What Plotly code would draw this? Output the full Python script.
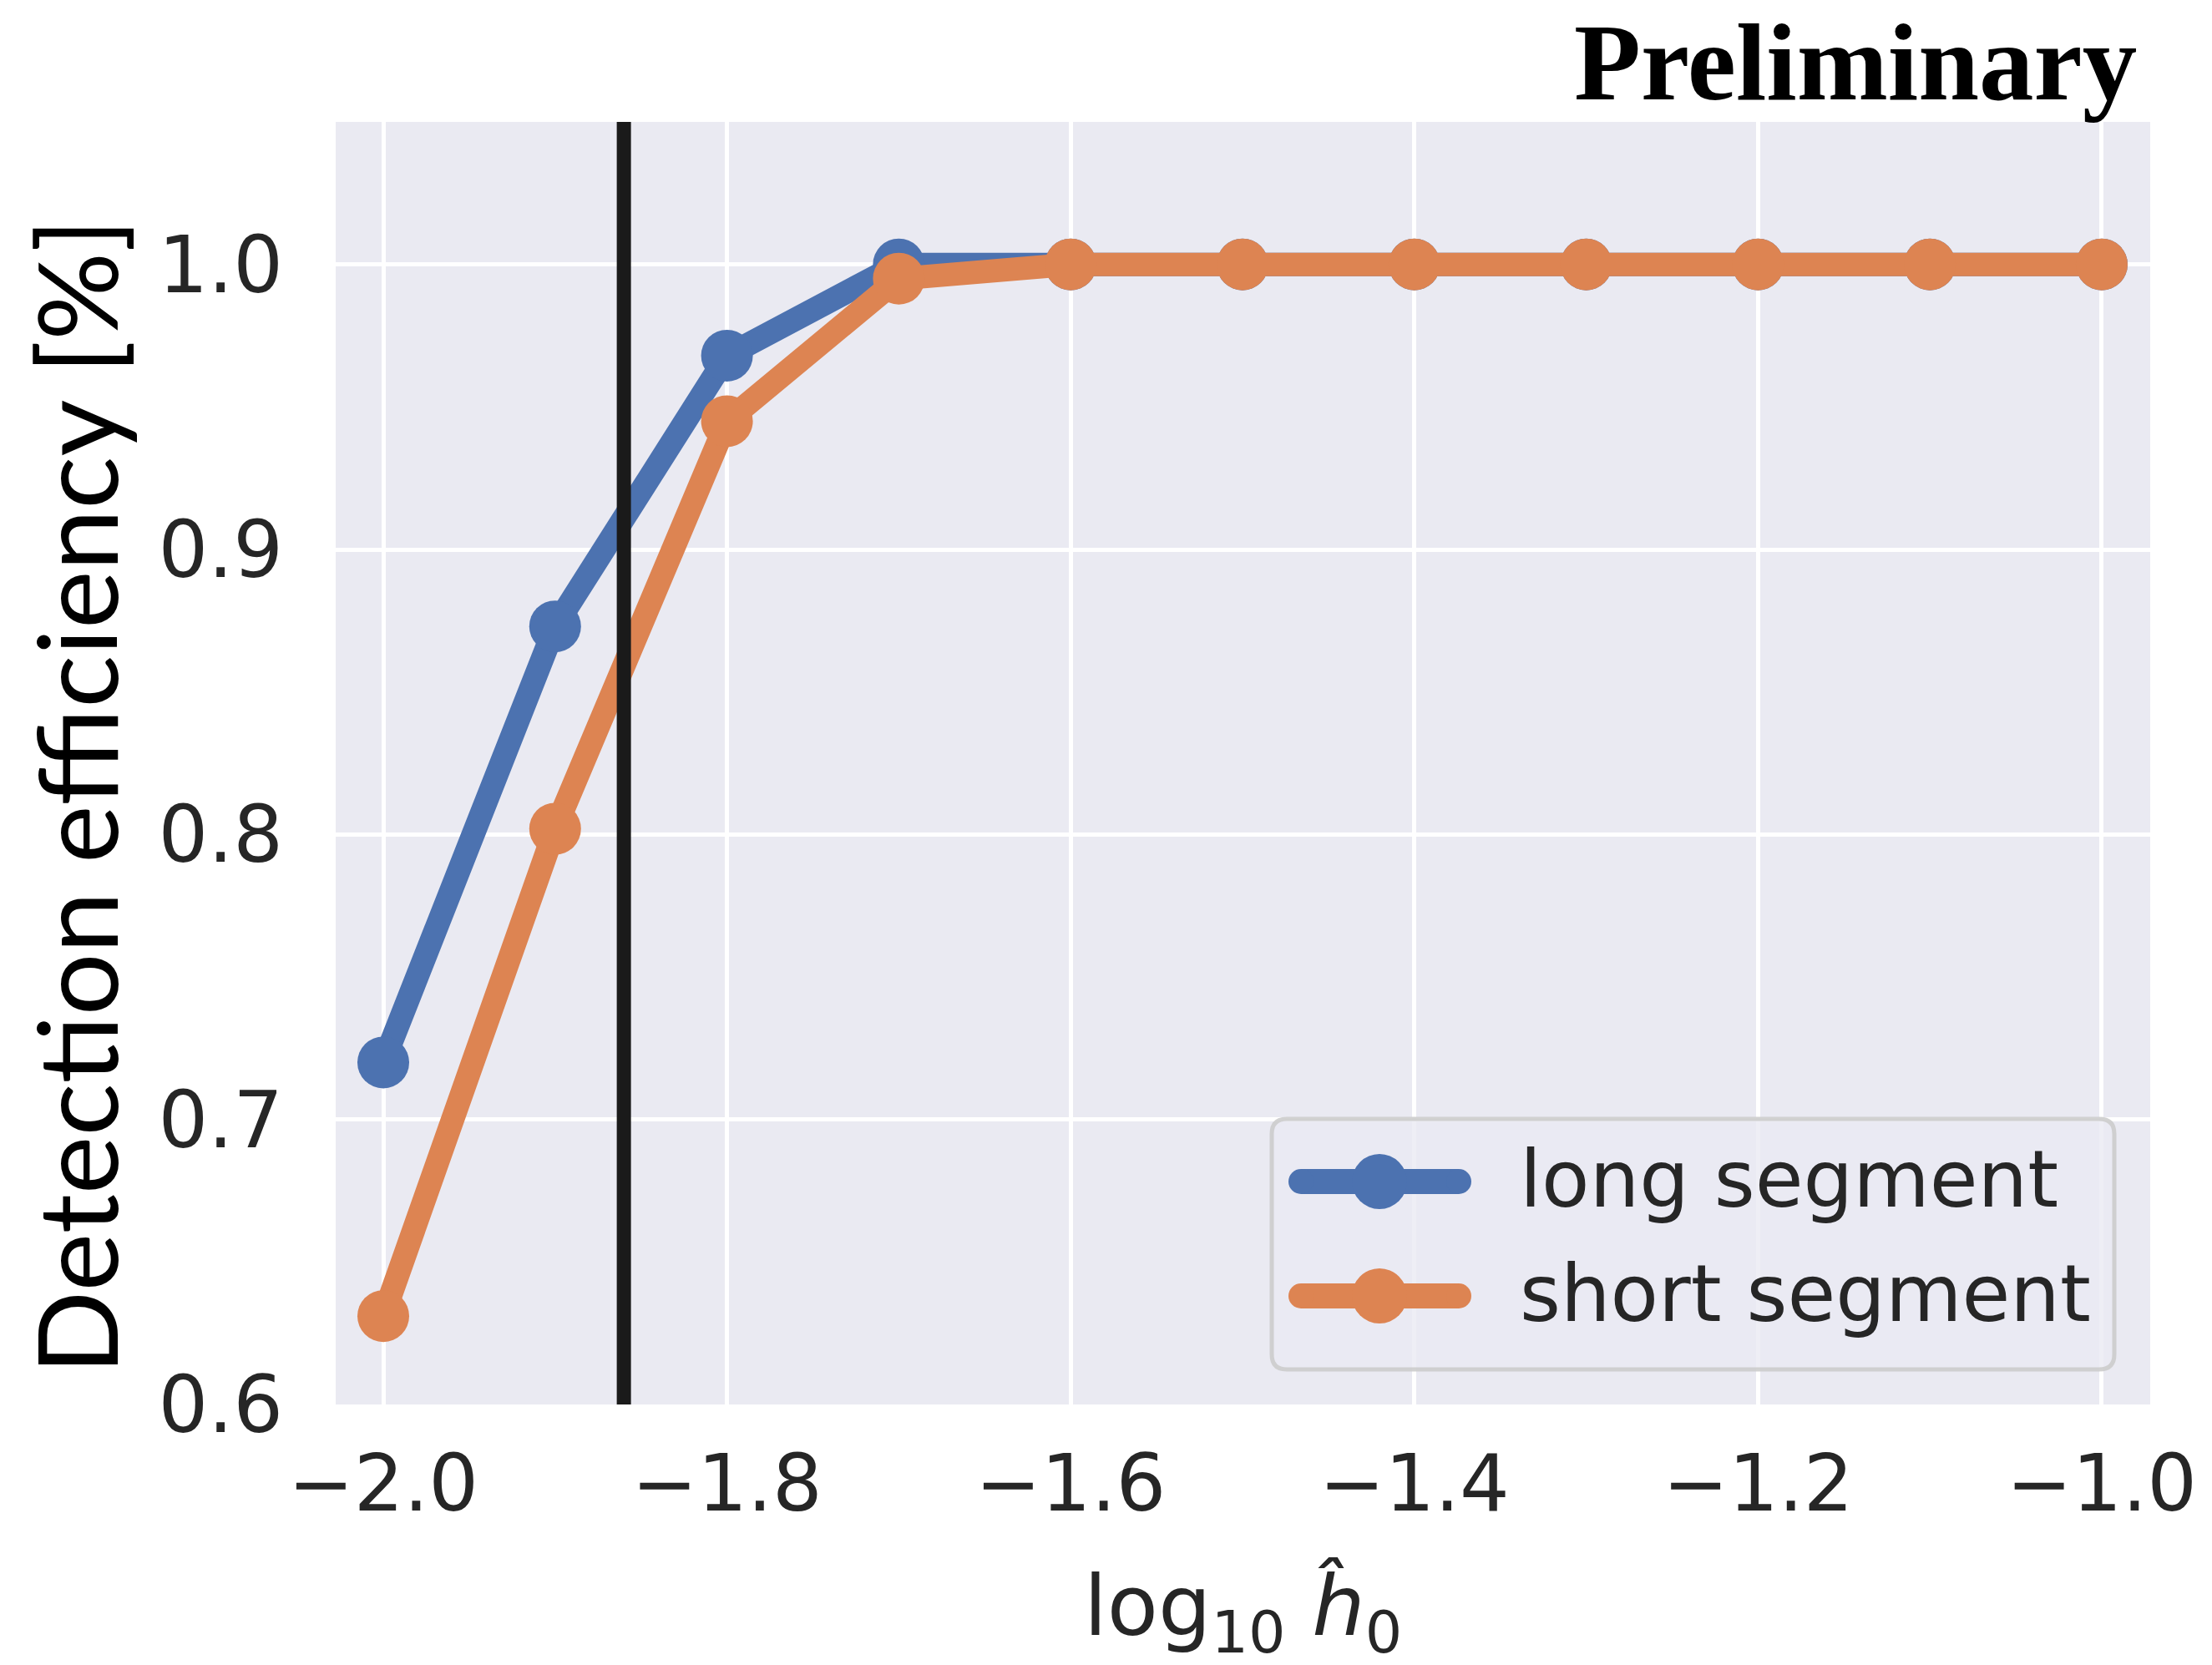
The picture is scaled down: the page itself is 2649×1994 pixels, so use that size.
import plotly.graph_objects as go

# ---- data ----
log_h0 = [-2.0, -1.9, -1.8, -1.7, -1.6, -1.5, -1.4, -1.3, -1.2, -1.1, -1.0]
long_segment = [0.720, 0.873, 0.968, 1.000, 1.000, 1.000, 1.000, 1.000, 1.000, 1.000, 1.000]
short_segment = [0.631, 0.802, 0.945, 0.995, 1.000, 1.000, 1.000, 1.000, 1.000, 1.000, 1.000]
series_names = ["long segment", "short segment"]
threshold_x = -1.86
x_ticks = [-2.0, -1.8, -1.6, -1.4, -1.2, -1.0]
y_ticks = [0.6, 0.7, 0.8, 0.9, 1.0]

BLUE = "#4C72B0"
ORANGE = "#DD8452"
TXT = "#262626"

FW, FH = 2649, 1994
ML, MR, MT, MB = 402, 74, 146, 312
PW, PH = FW - ML - MR, FH - MT - MB


def px(X):
    return (X - ML) / PW


def py(Y):
    return (FH - MB - Y) / PH


fig = go.Figure()
for vals, col, name in [(long_segment, BLUE, series_names[0]), (short_segment, ORANGE, series_names[1])]:
    fig.add_trace(go.Scatter(
        x=log_h0, y=vals, mode="lines+markers", name=name,
        line=dict(color=col, width=28),
        marker=dict(color=col, size=62),
        showlegend=False,
    ))

shapes = []
# vertical threshold line
shapes.append(dict(type="line", xref="x", yref="paper", x0=threshold_x, x1=threshold_x,
                   y0=0, y1=1, line=dict(color="#1a1a1a", width=17), layer="above"))

# custom legend box (rounded)
bx0, bx1, by0, by1 = 1523, 2532, 1340, 1640
r = 18
rx, ry = r / PW, r / PH
X0, X1, Y0, Y1 = px(bx0), px(bx1), py(by1), py(by0)
path = (f"M {X0+rx},{Y0} L {X1-rx},{Y0} Q {X1},{Y0} {X1},{Y0+ry} "
        f"L {X1},{Y1-ry} Q {X1},{Y1} {X1-rx},{Y1} L {X0+rx},{Y1} "
        f"Q {X0},{Y1} {X0},{Y1-ry} L {X0},{Y0+ry} Q {X0},{Y0} {X0+rx},{Y0} Z")
shapes.append(dict(type="path", xref="paper", yref="paper", path=path,
                   fillcolor="rgba(234,234,242,0.8)", line=dict(color="rgba(204,204,204,0.9)", width=5),
                   layer="above"))

annotations = []
rows = [1415, 1552]
for (name, col), Yr in zip([(series_names[0], BLUE), (series_names[1], ORANGE)], rows):
    shapes.append(dict(type="line", xref="paper", yref="paper", x0=px(1558), x1=px(1747),
                       y0=py(Yr), y1=py(Yr), line=dict(color=col, width=30), layer="above"))
    for cx in (1558, 1747):
        shapes.append(dict(type="circle", xref="paper", yref="paper", xsizemode="pixel", ysizemode="pixel",
                           xanchor=px(cx), yanchor=py(Yr), x0=-15, x1=15, y0=-15, y1=15,
                           fillcolor=col, line=dict(width=0), layer="above"))
    shapes.append(dict(type="circle", xref="paper", yref="paper", xsizemode="pixel", ysizemode="pixel",
                       xanchor=px(1652), yanchor=py(Yr), x0=-33, x1=33, y0=-33, y1=33,
                       fillcolor=col, line=dict(width=0), layer="above"))
    annotations.append(dict(text=name, xref="paper", yref="paper", x=px(1818), y=py(Yr - 3),
                            xanchor="left", yanchor="middle", showarrow=False,
                            font=dict(family="DejaVu Sans", size=94, color=TXT)))

# y title
annotations.append(dict(text="Detection efficiency [%]", xref="paper", yref="paper",
                        x=px(90), y=py(954), xanchor="center", yanchor="middle", textangle=-90,
                        showarrow=False, font=dict(family="Lato", size=132, color="black")))
# x title
annotations.append(dict(text="log<sub>10</sub> <i>h\u0302</i><sub>0</sub>", xref="paper", yref="paper",
                        x=px(1488), y=py(1930), xanchor="center", yanchor="middle",
                        showarrow=False, font=dict(family="DejaVu Sans", size=100, color=TXT)))
# Preliminary
annotations.append(dict(text="<b>Preliminary</b>", xref="paper", yref="paper",
                        x=px(2561), y=py(74), xanchor="right", yanchor="middle",
                        showarrow=False, font=dict(family="Liberation Serif", size=131, color="black")))

fig.update_layout(
    width=FW, height=FH,
    margin=dict(l=ML, r=MR, t=MT, b=MB, pad=0),
    paper_bgcolor="white", plot_bgcolor="#EAEAF2",
    shapes=shapes, annotations=annotations, showlegend=False,
    font=dict(family="DejaVu Sans", color=TXT),
)
fig.update_xaxes(range=[-2.0277, -0.9718], tickvals=x_ticks, tickformat=".1f",
                 showgrid=True, gridcolor="white", gridwidth=5, zeroline=False, showline=False,
                 ticks="", ticklabelstandoff=32, tickfont=dict(family="DejaVu Sans", size=94, color=TXT))
fig.update_yaxes(range=[0.6, 1.05], tickvals=y_ticks, tickformat=".1f",
                 showgrid=True, gridcolor="white", gridwidth=5, zeroline=False, showline=False,
                 ticks="", ticklabelstandoff=62, tickfont=dict(family="DejaVu Sans", size=94, color=TXT))

fig.write_html("out.html")
